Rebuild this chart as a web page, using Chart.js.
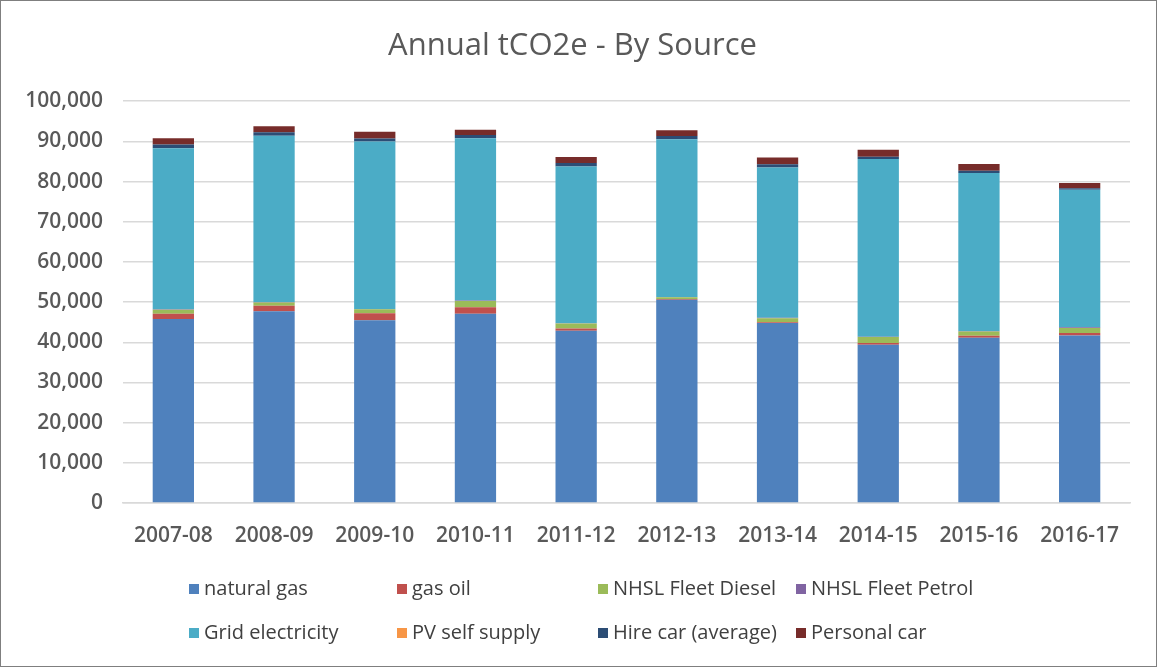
<!DOCTYPE html>
<html lang="en">
<head>
    <meta charset="UTF-8">
    <title>Annual tCO2e - By Source</title>
    <script src="https://cdn.jsdelivr.net/npm/chart.js"></script>
    <style>
        body { margin: 0; background: #fff; }
        #wrap { position: relative; width: 1155px; height: 665px; border: 1px solid #7f7f7f; }
        #legend { position: absolute; left: 0; top: 0; width: 100%; height: 100%; pointer-events: none;
                  font-family: "Open Sans", sans-serif; font-size: 20px; color: #404040; }
        .item { position: absolute; white-space: nowrap; line-height: 24px; }
        .item span.box { display: inline-block; width: 10px; height: 10px; margin-right: 5px; vertical-align: 1px; }
    </style>
</head>
<body>
<div id="wrap">
    <canvas id="co2Chart" width="1155" height="665"></canvas>
    <div id="legend"></div>
</div>
<script>
    // years on the x axis
    const years = ['2007-08', '2008-09', '2009-10', '2010-11', '2011-12', '2012-13', '2013-14', '2014-15', '2015-16', '2016-17'];

    // tCO2e per source
    const naturalGas     = [45800, 47700, 45500, 47100, 42900, 50600, 44800, 39400, 41100, 41700];
    const gasOil         = [1300, 1400, 1700, 1600, 500, 200, 200, 400, 500, 600];
    const fleetDiesel    = [1000, 800, 1000, 1600, 1250, 400, 1000, 1500, 1100, 1250];
    const fleetPetrol    = [100, 100, 100, 100, 100, 100, 100, 100, 100, 200];
    const gridElec       = [40100, 41400, 41700, 40400, 39000, 39200, 37400, 44200, 39300, 34200];
    const pvSelfSupply   = [0, 0, 0, 0, 0, 0, 0, 0, 0, 0];
    const hireCar        = [900, 850, 700, 800, 850, 850, 800, 600, 600, 400];
    const personalCar    = [1600, 1500, 1700, 1300, 1500, 1400, 1700, 1700, 1700, 1300];

    const series = [
        { label: 'natural gas', data: naturalGas, color: '#4F81BD' },
        { label: 'gas oil', data: gasOil, color: '#C0504D' },
        { label: 'NHSL Fleet Diesel', data: fleetDiesel, color: '#9BBB59' },
        { label: 'NHSL Fleet Petrol', data: fleetPetrol, color: '#8064A2' },
        { label: 'Grid electricity', data: gridElec, color: '#4BACC6' },
        { label: 'PV self supply', data: pvSelfSupply, color: '#F79646' },
        { label: 'Hire car (average)', data: hireCar, color: '#2C4D75' },
        { label: 'Personal car', data: personalCar, color: '#772C2A' }
    ];

    // legend laid out like the original: two rows of four
    const legendCols = [188, 396, 597, 795];
    const legendRows = [588, 632];
    const legend = document.getElementById('legend');
    series.forEach((s, i) => {
        const el = document.createElement('div');
        el.className = 'item';
        el.style.left = legendCols[i % 4] + 'px';
        el.style.top = (legendRows[Math.floor(i / 4)] - 13) + 'px';
        el.innerHTML = '<span class="box" style="background:' + s.color + '"></span>' + s.label;
        legend.appendChild(el);
    });

    const tickFont = { family: '"Open Sans", sans-serif', size: 21, weight: '600' };

    const ctx = document.getElementById('co2Chart').getContext('2d');
    new Chart(ctx, {
        type: 'bar',
        data: {
            labels: years,
            datasets: series.map(s => ({
                label: s.label,
                data: s.data,
                backgroundColor: s.color,
                borderWidth: 0,
                barPercentage: 0.41,
                categoryPercentage: 1.0
            }))
        },
        options: {
            responsive: false,
            animation: false,
            layout: { padding: { left: 14, right: 26, top: 8, bottom: 113 } },
            plugins: {
                legend: { display: false },
                tooltip: { enabled: false },
                title: {
                    display: true,
                    text: 'Annual tCO2e - By Source',
                    color: '#595959',
                    font: { family: '"Open Sans", sans-serif', size: 31, weight: 'normal' },
                    padding: { top: 19, bottom: 36 }
                }
            },
            scales: {
                x: {
                    stacked: true,
                    grid: { display: false },
                    border: { color: '#D9D9D9', width: 1.5 },
                    afterFit: axis => { axis.height = 50; },
                    ticks: { color: '#595959', font: tickFont, padding: 12, maxRotation: 0 }
                },
                y: {
                    stacked: true,
                    min: 0,
                    max: 100000,
                    grid: { color: '#D9D9D9', lineWidth: 1.5, drawTicks: false },
                    border: { display: false },
                    afterFit: axis => { axis.width = 108; },
                    ticks: {
                        stepSize: 10000,
                        color: '#595959',
                        padding: 20,
                        font: tickFont,
                        callback: v => v.toLocaleString('en-US')
                    }
                }
            }
        }
    });
</script>
</body>
</html>
